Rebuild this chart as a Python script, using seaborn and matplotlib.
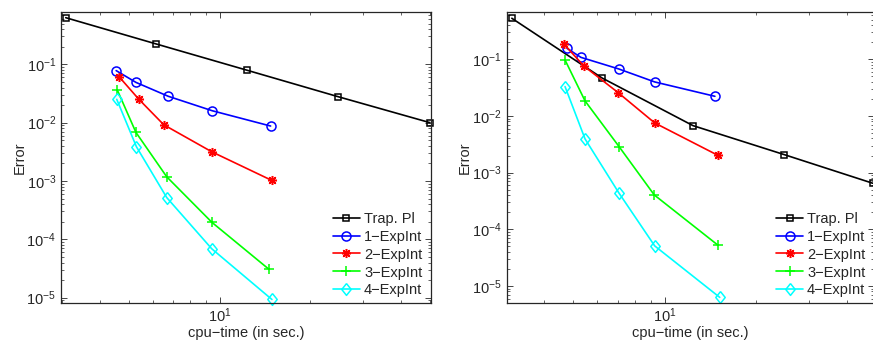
import numpy as np
import pandas as pd
import matplotlib
matplotlib.use("Agg")
import matplotlib.pyplot as plt
import seaborn as sns
from matplotlib.ticker import NullFormatter

methods = ["Trap. Pl", "1\u2212ExpInt", "2\u2212ExpInt", "3\u2212ExpInt", "4\u2212ExpInt"]

# left panel: cpu time / error per method
left_t = {
    "Trap. Pl": [3.08, 6.16, 12.35, 24.8, 50.0],
    "1\u2212ExpInt": [4.53, 5.27, 6.75, 9.45, 14.77],
    "2\u2212ExpInt": [4.64, 5.38, 6.52, 9.41, 14.92],
    "3\u2212ExpInt": [4.57, 5.27, 6.67, 9.43, 14.6],
    "4\u2212ExpInt": [4.55, 5.29, 6.67, 9.41, 14.92],
}
left_err = {
    "Trap. Pl": [0.63, 0.223, 0.079, 0.0278, 0.0100],
    "1\u2212ExpInt": [0.078, 0.049, 0.0283, 0.016, 0.00875],
    "2\u2212ExpInt": [0.0606, 0.0254, 0.0092, 0.00317, 0.00102],
    "3\u2212ExpInt": [0.0362, 0.0068, 0.00118, 1.95e-4, 3.05e-5],
    "4\u2212ExpInt": [0.0251, 0.00386, 5.2e-4, 6.9e-5, 9.3e-6],
}

# right panel
right_t = {
    "Trap. Pl": [3.13, 6.21, 12.4, 24.8, 48.6],
    "1\u2212ExpInt": [4.76, 5.29, 7.05, 9.27, 14.65],
    "2\u2212ExpInt": [4.64, 5.41, 7.02, 9.27, 14.96],
    "3\u2212ExpInt": [4.69, 5.46, 7.07, 9.24, 14.96],
    "4\u2212ExpInt": [4.69, 5.46, 7.05, 9.27, 15.2],
}
right_err = {
    "Trap. Pl": [0.528, 0.0468, 0.00675, 0.00208, 6.5e-4],
    "1\u2212ExpInt": [0.156, 0.108, 0.0675, 0.0398, 0.0222],
    "2\u2212ExpInt": [0.188, 0.076, 0.0258, 0.00753, 0.00203],
    "3\u2212ExpInt": [0.097, 0.0184, 0.00288, 4.04e-4, 5.3e-5],
    "4\u2212ExpInt": [0.0329, 0.00393, 4.44e-4, 5.1e-5, 6.3e-6],
}

colors = ["black", "blue", "red", "#00ff00", "cyan"]
diamond = [(0, 1), (0.8, 0), (0, -1), (-0.8, 0), (0, 1)]
markers = ["s", "o", (8, 2, 0), "+", diamond]
msizes = [5, 6.5, 6.5, 6.5, 8.5]

sns.set_style("ticks")
plt.rcParams["font.family"] = ["Liberation Sans", "DejaVu Sans"]
plt.rcParams["mathtext.fontset"] = "custom"
plt.rcParams["mathtext.rm"] = "Liberation Sans"
plt.rcParams["mathtext.it"] = "Liberation Sans:italic"
plt.rcParams["xtick.direction"] = "in"
plt.rcParams["ytick.direction"] = "in"
plt.rcParams["xtick.top"] = True
plt.rcParams["ytick.right"] = True
plt.rcParams["xtick.minor.visible"] = True
plt.rcParams["axes.linewidth"] = 0.9


def make_df(tt, ee):
    rows = []
    for m in methods:
        for t, e in zip(tt[m], ee[m]):
            rows.append({"method": m, "t": t, "err": e})
    return pd.DataFrame(rows)


fig = plt.figure(figsize=(8.73, 3.42), dpi=100)
ax1 = fig.add_axes([61 / 873, 1 - 303.3 / 342, 370 / 873, 291.6 / 342])
ax2 = fig.add_axes([506.7 / 873, 1 - 303.3 / 342, 367.3 / 873, 291.6 / 342])

panels = [
    (ax1, make_df(left_t, left_err), (2.97, 50.4), (8.0e-6, 0.798)),
    (ax2, make_df(right_t, right_err), (3.01, 49.1), (4.95e-6, 0.69)),
]

for ax, df, xl, yl in panels:
    for m, c, mk, ms in zip(methods, colors, markers, msizes):
        sub = df[df["method"] == m]
        sns.lineplot(data=sub, x="t", y="err", ax=ax, color=c, marker=mk,
                     markersize=ms, mfc="none", mec=c, mew=1.1, lw=1.2,
                     label=m, clip_on=False)
    ax.set_xscale("log")
    ax.set_yscale("log")
    ax.set_xlim(*xl)
    ax.set_ylim(*yl)
    ax.xaxis.set_minor_formatter(NullFormatter())
    ax.set_xlabel("cpu\u2212time (in sec.)", fontsize=10.5, labelpad=1)
    ax.set_ylabel("Error", fontsize=10.5, labelpad=0)
    ax.tick_params(labelsize=10.5, length=4, width=0.6)
    ax.tick_params(which="minor", length=2, width=0.5)
    ax.tick_params(axis="x", which="major", pad=2)
    for s in ax.spines.values():
        s.set_visible(True)
    ax.legend(loc="lower right", bbox_to_anchor=(1.0, -0.01), frameon=False,
              fontsize=10.5, handlelength=1.8, handletextpad=0.3,
              labelspacing=0.27, borderaxespad=0.2)

fig.savefig("out.png", dpi=100)
